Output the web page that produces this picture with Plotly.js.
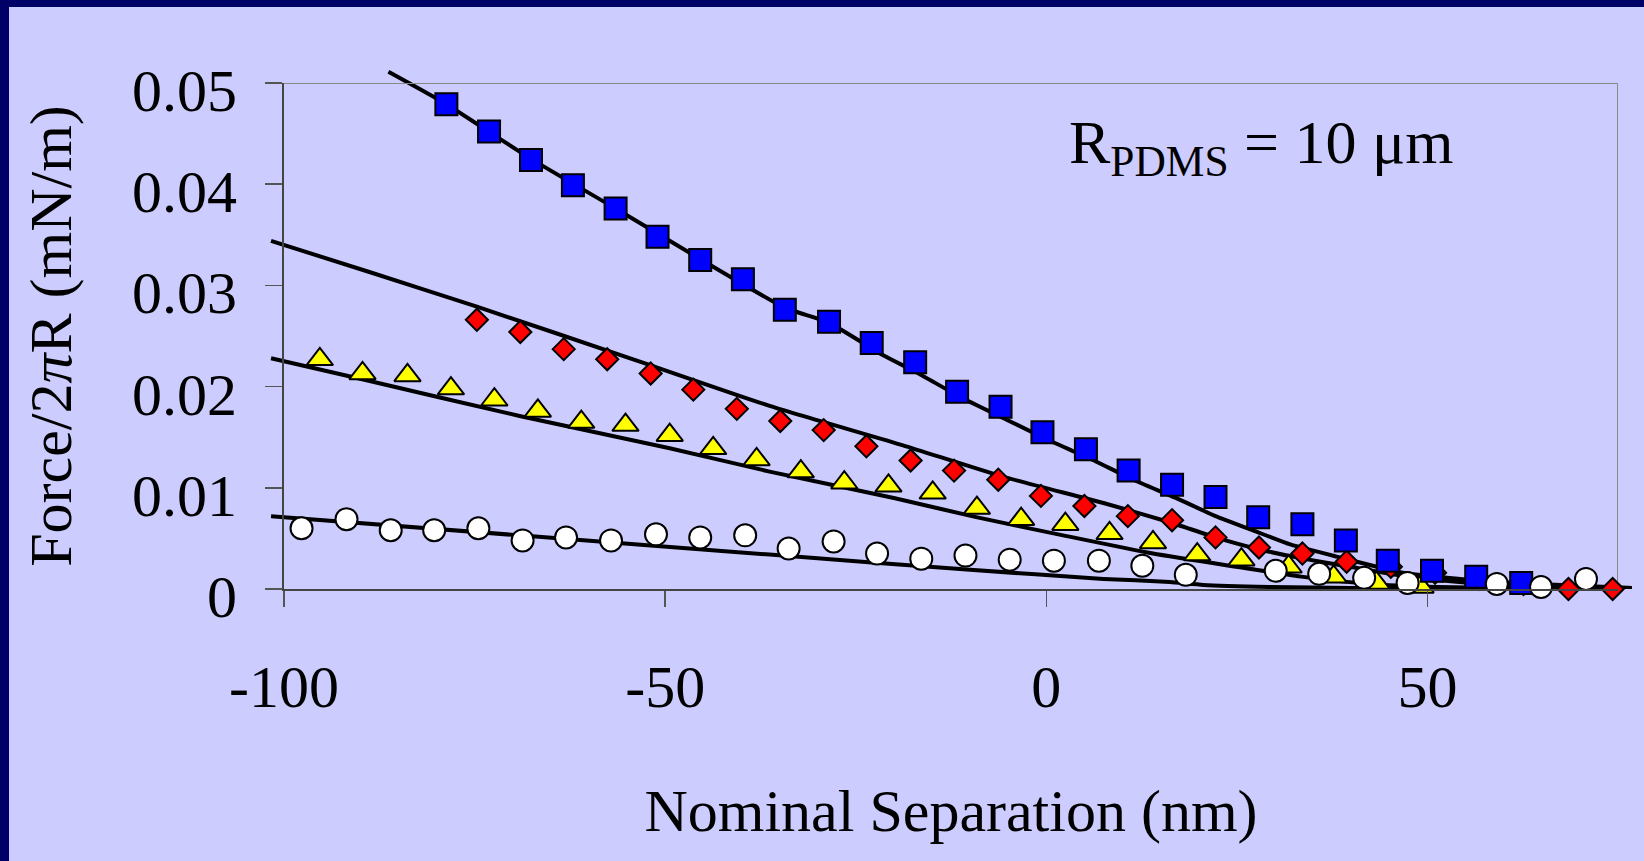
<!DOCTYPE html>
<html><head><meta charset="utf-8">
<script src="https://cdn.plot.ly/plotly-3.0.1.min.js"></script>
<style>
html,body{margin:0;padding:0;background:#000066;width:1644px;height:861px;overflow:hidden;}
#chart{position:absolute;left:9px;top:7px;width:1635px;height:854px;}
</style></head><body><div id="chart"></div>
<script>
// ---- measured points (x: nm, y: mN/m) ----
const blueX = [-78.7, -73.1, -67.6, -62.1, -56.5, -51.0, -45.4, -39.8, -34.3, -28.5, -22.9, -17.2, -11.7, -6.0, -0.5, 5.2, 10.8, 16.5, 22.2, 27.8, 33.6, 39.3, 44.8, 50.6, 56.4, 62.3];
const blueY = [0.0479, 0.0452, 0.0424, 0.0399, 0.0376, 0.0348, 0.0325, 0.0306, 0.0276, 0.0264, 0.0243, 0.0224, 0.0195, 0.0180, 0.0155, 0.0138, 0.0117, 0.0103, 0.0091, 0.0071, 0.0064, 0.0048, 0.0028, 0.0018, 0.0012, 0.0006];

const redX = [-74.7, -69.0, -63.3, -57.6, -51.9, -46.3, -40.6, -34.9, -29.2, -23.6, -17.8, -12.1, -6.3, -0.7, 5.0, 10.7, 16.5, 22.2, 27.9, 33.6, 39.4, 45.2, 51.0, 56.8, 62.6, 68.5, 74.3];
const redY = [0.0266, 0.0254, 0.0237, 0.0227, 0.0213, 0.0197, 0.0178, 0.0166, 0.0157, 0.0141, 0.0127, 0.0117, 0.0108, 0.0092, 0.0082, 0.0072, 0.0068, 0.0051, 0.0041, 0.0035, 0.0027, 0.0022, 0.0016, 0.0010, 0.0005, 0.0000, 0.0000];

const yellowX = [-95.3, -89.7, -83.8, -78.1, -72.4, -66.7, -61.0, -55.2, -49.4, -43.7, -38.0, -32.2, -26.5, -20.7, -14.9, -9.1, -3.3, 2.5, 8.3, 14.0, 19.8, 25.6, 31.8, 37.7, 43.3, 49.1];
const yellowY = [0.0227, 0.0213, 0.0211, 0.0198, 0.0187, 0.0176, 0.0165, 0.0162, 0.0152, 0.0139, 0.0128, 0.0116, 0.0105, 0.0102, 0.0095, 0.0080, 0.0069, 0.0064, 0.0055, 0.0046, 0.0034, 0.0029, 0.0022, 0.0012, 0.0006, 0.0002];

const whiteX = [-97.7, -91.8, -86.0, -80.3, -74.5, -68.7, -63.0, -57.1, -51.2, -45.4, -39.5, -33.8, -27.9, -22.2, -16.4, -10.6, -4.8, 1.0, 6.9, 12.6, 18.3, 30.1, 35.8, 41.7, 47.4, 59.1, 64.9, 70.8];
const whiteY = [0.0060, 0.0069, 0.0058, 0.0058, 0.0060, 0.0048, 0.0051, 0.0048, 0.0054, 0.0051, 0.0053, 0.0040, 0.0047, 0.0035, 0.0030, 0.0033, 0.0029, 0.0028, 0.0028, 0.0023, 0.0014, 0.0018, 0.0015, 0.0011, 0.0006, 0.0005, 0.0002, 0.0010];

// ---- fitted curves ----
const blueFitX = [-86.3, -78.7, -67.6, -56.5, -45.4, -34.3, -28.5, -21.4, -17.0, -11.35, -5.67, 0.03, 5.7, 11.4, 17.0, 22.2, 27.1, 32.0, 38.1, 46.8, 55.6, 64.4, 76.8];
const blueFitY = [0.0511, 0.0479, 0.0425, 0.0376, 0.0326, 0.0278, 0.0263, 0.0231, 0.0214, 0.0190, 0.0169, 0.0148, 0.0129, 0.0108, 0.0090, 0.0072, 0.0058, 0.0044, 0.0032, 0.0016, 0.0009, 0.0005, 0.0001];

const redFitX = [-101.7, -88.7, -74.7, -54.2, -36.3, -18.8, -5.7, 7.5, 16.2, 22.2, 28.0, 33.7, 39.8, 45.9, 51.2, 60.0, 76.8];
const redFitY = [0.0344, 0.0313, 0.0279, 0.0227, 0.0181, 0.0142, 0.0111, 0.0085, 0.0066, 0.0051, 0.0039, 0.0030, 0.0022, 0.0014, 0.0009, 0.0004, 0.0001];

const yellowFitX = [-101.7, -89.6, -69.1, -49.4, -36.3, -20.0, -9.2, 2.2, 14.0, 24.9, 33.7, 42.4, 51.2, 60.0, 76.8];
const yellowFitY = [0.0228, 0.0207, 0.0171, 0.0139, 0.0116, 0.0090, 0.0071, 0.0053, 0.0035, 0.0022, 0.0012, 0.0005, 0.0002, 0.0001, 0.0000];

const whiteFitX = [-101.7, -69.1, -36.3, -10.0, 7.5, 16.2, 20.6, 29.3, 40.0, 76.8];
const whiteFitY = [0.0072, 0.0053, 0.0034, 0.0019, 0.0010, 0.0007, 0.0004, 0.0002, 0.0001, 0.0000];

const xTickVals = [-100, -50, 0, 50];
const xTickText = ['-100', '-50', '0', '50'];
const yTickVals = [0, 0.01, 0.02, 0.03, 0.04, 0.05];
const yTickText = ['0', '0.01', '0.02', '0.03', '0.04', '0.05'];

// ---- geometry (page pixels) ----
const OX = 9, OY = 7, W = 1635, H = 854;
const AX_L = 284, AX_R = 1618, AX_T = 83, AX_B = 589;   // visible axes box
const LN_L = 270, LN_R = 1634, LN_T = 68;              // area where fit lines may run
const xMin = -100, xMax = 75, yMin = 0, yMax = 0.05;
const sx = (AX_R - AX_L) / (xMax - xMin), sy = (AX_B - AX_T) / (yMax - yMin);
const plotW = LN_R - LN_L, plotH = AX_B - LN_T;
const FONT = 'Liberation Serif, Times New Roman, serif';

const lineStyle = {color: '#000000', width: 4, shape: 'spline', smoothing: 0.5};
const mk = (sym, col, size) => ({symbol: sym, color: col, size: size, line: {color: '#000000', width: 2}});

const traces = [
  {x: blueFitX, y: blueFitY, mode: 'lines', line: lineStyle, xaxis: 'x', yaxis: 'y', hoverinfo: 'skip'},
  {x: redFitX, y: redFitY, mode: 'lines', line: lineStyle, xaxis: 'x', yaxis: 'y', hoverinfo: 'skip'},
  {x: yellowFitX, y: yellowFitY, mode: 'lines', line: lineStyle, xaxis: 'x', yaxis: 'y', hoverinfo: 'skip'},
  {x: whiteFitX, y: whiteFitY, mode: 'lines', line: lineStyle, xaxis: 'x', yaxis: 'y', hoverinfo: 'skip'},
  {x: redX, y: redY, mode: 'markers', marker: mk('diamond', '#FF0000', 17), xaxis: 'x2', yaxis: 'y2', cliponaxis: false},
  {x: yellowX, y: yellowY, mode: 'markers', marker: mk('triangle-up', '#FFFF00', 23), xaxis: 'x2', yaxis: 'y2', cliponaxis: false},
  {x: blueX, y: blueY, mode: 'markers', marker: mk('square', '#0000FF', 22), xaxis: 'x2', yaxis: 'y2', cliponaxis: false},
  {x: whiteX, y: whiteY, mode: 'markers', marker: mk('circle', '#FFFFFF', 22), xaxis: 'x2', yaxis: 'y2', cliponaxis: false}
];

const layout = {
  width: W, height: H,
  margin: {l: LN_L - OX, r: W - (LN_R - OX), t: LN_T - OY, b: H - (AX_B - OY), pad: 0},
  paper_bgcolor: '#CCCCFF', plot_bgcolor: 'rgba(0,0,0,0)',
  showlegend: false,
  font: {family: FONT, color: '#000000', size: 60},
  xaxis: {domain: [0, 1], range: [xMin - (AX_L - LN_L) / sx, xMax + (LN_R - AX_R) / sx], visible: false, fixedrange: true},
  yaxis: {domain: [0, 1], range: [yMin, yMax + (AX_T - LN_T) / sy], visible: false, fixedrange: true},
  xaxis2: {
    domain: [(AX_L - LN_L) / plotW, (AX_R - LN_L) / plotW], range: [xMin, xMax], anchor: 'y2',
    tickmode: 'array', tickvals: xTickVals, ticktext: xTickText, ticks: 'outside', ticklen: 16, tickwidth: 1.5, tickcolor: '#555555',
    showline: true, linecolor: '#444444', linewidth: 2, showgrid: false, zeroline: false,
    tickfont: {family: FONT, size: 60, color: '#000000'}, ticklabelstandoff: 28,
    title: {text: 'Nominal Separation (nm)', font: {family: FONT, size: 60, color: '#000000'}, standoff: 70},
    fixedrange: true
  },
  yaxis2: {
    domain: [0, (AX_B - AX_T) / plotH], range: [yMin, yMax], anchor: 'x2',
    tickmode: 'array', tickvals: yTickVals, ticktext: yTickText, ticks: 'outside', ticklen: 17, tickwidth: 1.5, tickcolor: '#555555',
    showline: true, linecolor: '#444444', linewidth: 2, showgrid: false, zeroline: false,
    tickfont: {family: FONT, size: 60, color: '#000000'}, ticklabelstandoff: 16, ticklabelshift: 7,
    title: {text: 'Force/2<i>π</i>R (mN/m)', font: {family: FONT, size: 60, color: '#000000'}, standoff: 41},
    fixedrange: true
  },
  shapes: [
    {type: 'line', xref: 'x2', yref: 'y2', x0: xMin, x1: xMax, y0: yMax, y1: yMax, line: {color: '#888888', width: 2}, layer: 'below'},
    {type: 'line', xref: 'x2', yref: 'y2', x0: xMax, x1: xMax, y0: yMin, y1: yMax, line: {color: '#888888', width: 2}, layer: 'below'}
  ],
  annotations: [
    {xref: 'x2', yref: 'y2', x: xMin + (1067 - AX_L) / sx, y: yMax - (146 - AX_T) / sy, xanchor: 'left', yanchor: 'middle',
     showarrow: false, text: 'R<sub>PDMS</sub> = 10 μm', font: {family: FONT, size: 62, color: '#000000'}}
  ]
};

Plotly.newPlot('chart', traces, layout, {displayModeBar: false, staticPlot: true});
</script></body></html>
